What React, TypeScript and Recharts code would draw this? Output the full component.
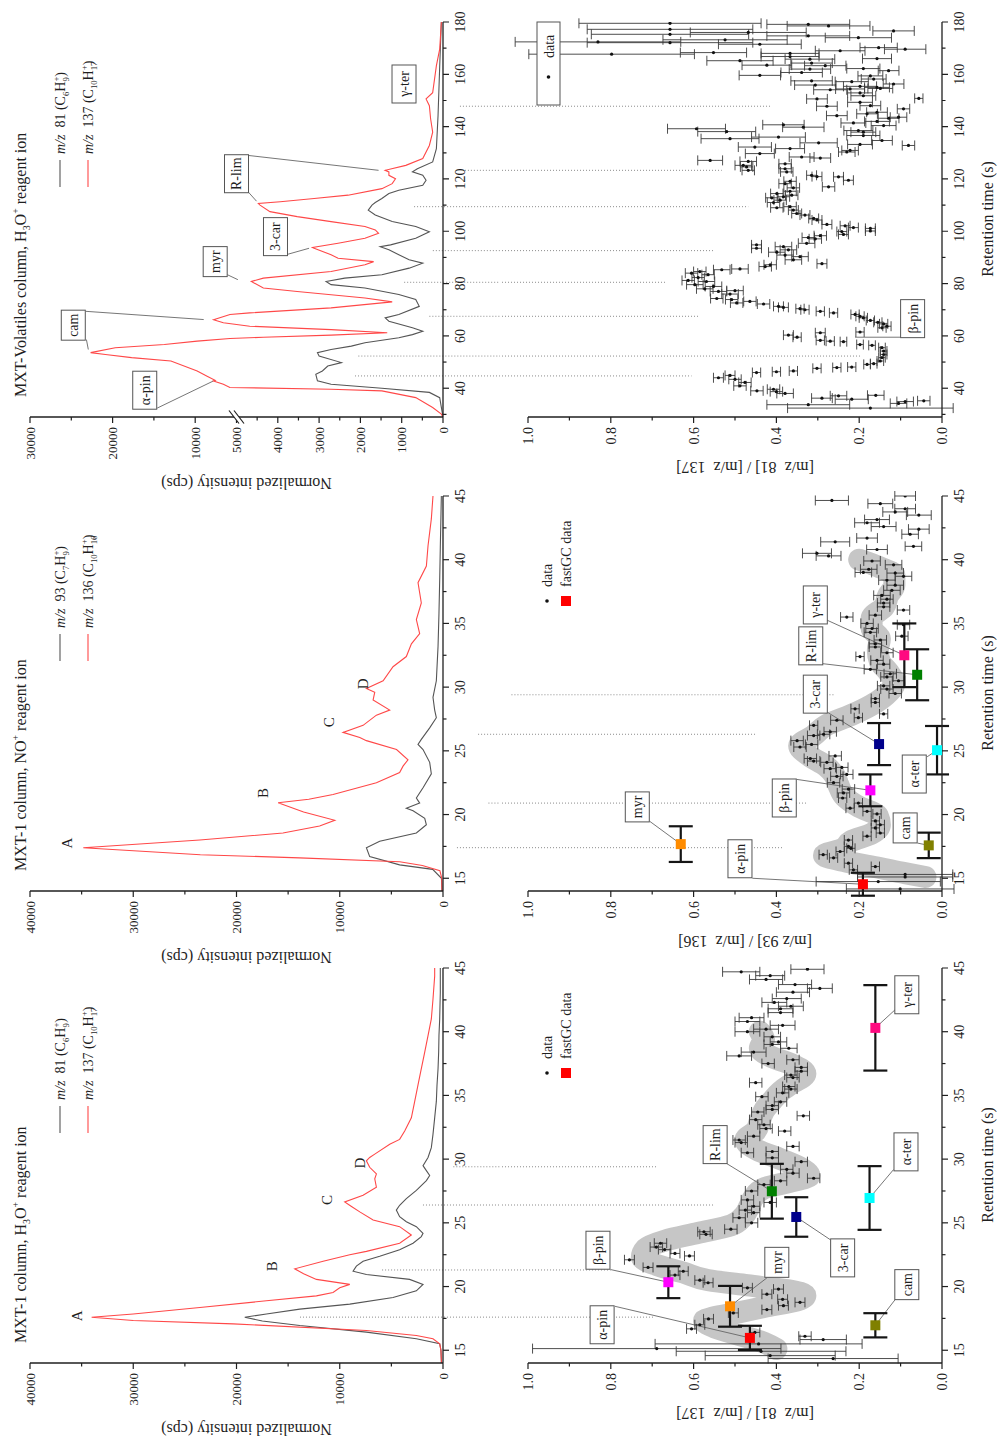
import React from "react";
import { ComposedChart, Line, Scatter, XAxis, YAxis, ErrorBar, ReferenceLine } from "recharts";

const FONT = '"Liberation Serif", "Times New Roman", serif';
const INK = "#1f1f1f";
const GRAY = "#555555";
const RED = "#ff4848";

// ---- chromatograms [retention time (s), normalized intensity (cps)] ----
const mxtH3o81 = [
  [14, 150], [15, 200], [15.52, 320], [15.9, 2580], [16.42, 7420], [16.94, 13870], [17.3, 17500], [17.59, 19200],
  [17.85, 17100], [18.23, 13870], [18.62, 9030], [19.14, 4840], [19.66, 2580], [20.17, 1935], [20.56, 3230],
  [20.95, 7420], [21.2, 8710], [21.6, 8390], [21.98, 7740], [22.37, 6130], [22.89, 4200], [23.4, 2900], [23.92, 2100],
  [24.18, 1935], [24.7, 2580], [25.09, 3550], [25.48, 4200], [26.0, 4520], [26.38, 4200], [26.9, 3550], [27.55, 2580],
  [28.32, 1610], [28.71, 1290], [29.1, 1610], [29.49, 1935], [30.13, 1450], [30.9, 1130], [31.94, 970], [33.24, 806],
  [34.53, 645], [35.82, 580], [37.1, 480], [38.4, 420], [39.7, 390], [41, 320], [43.1, 260], [45, 260],
];
const mxtH3o137 = [
  [14, 150], [15, 200], [15.5, 320], [15.9, 970], [16.16, 2580], [16.55, 7420], [17.07, 20320], [17.33, 30000],
  [17.59, 34030], [17.85, 30000], [18.36, 23550], [18.88, 17100], [19.27, 12260], [19.53, 10650], [19.9, 10000],
  [20.17, 9030], [20.56, 12260], [21.0, 13500], [21.39, 14360], [21.98, 11610], [22.5, 9030], [22.76, 7420],
  [23.4, 4200], [24.05, 3065], [24.7, 4200], [25.22, 6770], [25.86, 8060], [26.3, 8900], [26.64, 9520], [27.16, 7740],
  [27.8, 6450], [28.45, 6610], [28.84, 6450], [29.36, 7100], [29.87, 7420], [30.13, 7100], [30.39, 6610], [31.17, 5160],
  [31.55, 4200], [32.2, 3710], [33.24, 3065], [34.53, 2740], [35.82, 2420], [37.1, 2100], [38.4, 1770], [39.7, 1450],
  [41.0, 1130], [42.55, 970], [44.36, 806], [45, 806],
];
const mxtNo93 = [
  [14, 100], [15, 150], [15.7, 1000], [16.05, 4200], [16.7, 7100], [17.4, 7420], [17.9, 6130], [18.55, 2580],
  [19.2, 1610], [19.7, 1770], [20.3, 2900], [20.5, 3550], [20.9, 2260], [21.3, 2580], [22.1, 1935], [23.2, 1130],
  [24.1, 1290], [25.1, 1935], [25.5, 2420], [25.9, 2100], [26.8, 1290], [27.6, 645], [28.2, 806], [29.2, 970],
  [30.5, 645], [33.2, 480], [35.8, 390], [38.4, 320], [41, 260], [45, 160],
];
const mxtNo136 = [
  [14, 100], [15, 120], [15.6, 300], [16, 2000], [16.3, 4200], [16.6, 13900], [16.85, 23500], [17.4, 34840],
  [18.0, 23550], [18.55, 15500], [19.1, 11950], [19.55, 10480], [20.2, 13500], [20.92, 15970], [21.2, 13000],
  [21.58, 10650], [22.5, 6450], [23.3, 4200], [23.8, 3870], [24.3, 3390], [25.1, 4500], [25.8, 7420], [26.05, 8060],
  [26.45, 9680], [27.0, 7740], [27.8, 6450], [28.2, 5160], [29.0, 6770], [29.6, 6610], [29.9, 7420], [30.5, 5800],
  [31.6, 4840], [32.4, 3550], [33.4, 3060], [34.2, 2260], [35.3, 2580], [36.6, 2100], [38.2, 2420], [39.5, 1610],
  [41.1, 1450], [43.2, 1130], [45, 970],
];
const volH3o81 = [
  [29, 0], [36.4, 80], [38.4, 330], [40, 1480], [41.5, 2710], [42.8, 3040], [45.3, 3080], [46.6, 2920], [48.5, 2790],
  [49.8, 2460], [52.3, 3000], [53.6, 3040], [54.8, 2710], [56.1, 2220], [57.4, 1890], [59.3, 1070], [60.5, 740],
  [61.8, 490], [63.1, 740], [65.6, 1310], [66.9, 1400], [68.2, 1070], [71.3, 575], [73.9, 660], [75.8, 1070],
  [78.3, 1890], [79.6, 2710], [80.8, 2830], [82.1, 2380], [83.4, 1480], [85.9, 820], [87.8, 490], [89.1, 820],
  [91, 1070], [92.9, 1310], [94.1, 1520], [94.8, 1270], [97.3, 660], [99.8, 330], [101.8, 660], [103.7, 1230],
  [106.2, 1640], [108.1, 1810], [110, 1720], [111, 1640], [112.5, 1480], [114.4, 1310], [115.7, 1070], [117.6, 490],
  [119.5, 410], [121.4, 490], [122.7, 740], [123.9, 620], [126.5, 250], [131.6, 160], [144.2, 120], [163, 80], [180, 40],
];
const volH3o137 = [
  [29, 0], [30.1, 40], [32.6, 250], [36.4, 660], [39, 1480], [39.6, 2710], [40.3, 5800], [41.5, 6590], [42.8, 7780],
  [43, 7580], [44.5, 8500], [46.6, 9760], [50.4, 12940], [51.7, 17700], [52.9, 20870], [53.6, 22660], [55.5, 19680],
  [56.7, 13730], [58, 9760], [59, 5790], [59.5, 4350], [60.3, 2710], [61.2, 1350], [62.4, 2710], [63.7, 4680],
  [65, 6590], [66.2, 7780], [68.2, 5790], [68.8, 4680], [70.7, 2710], [73, 1230], [74.5, 1890], [77, 3530],
  [78.3, 4350], [80.8, 4640], [82.1, 4350], [84.6, 2710], [87.2, 1890], [88.4, 1680], [89.7, 2540], [91, 2710],
  [93.5, 3120], [93.8, 3160], [95.4, 2540], [97.3, 1890], [99.2, 1560], [100.5, 1640], [101.8, 1890], [103.7, 2710],
  [105.6, 3530], [107.5, 4190], [110, 4430], [110.6, 4470], [111.3, 3940], [112.5, 3120], [113.8, 2300], [116.3, 1480],
  [118.2, 1230], [120.1, 1150], [121.4, 1310], [122.7, 1310], [123.3, 1400], [125.2, 900], [127.8, 490], [132.8, 330],
  [137.9, 250], [143, 300], [148, 330], [150.6, 410], [153, 250], [163.3, 160], [169.6, 80], [180, 40],
];

// ---- ratios [retention time (s), ratio, error] ----
const ratioH3o = [
  [14.35, 0.263, 0.157], [14.58, 0.415, 0.157], [14.92, 0.437, 0.205], [15.13, 0.689, 0.3], [15.5, 0.443, 0.25],
  [15.84, 0.287, 0.056], [16.1, 0.331, 0.015], [16.4, 0.452, 0.012], [16.68, 0.605, 0.012], [17.0, 0.585, 0.012],
  [17.46, 0.564, 0.012], [17.93, 0.504, 0.012], [18.19, 0.423, 0.012], [18.5, 0.383, 0.012], [18.76, 0.343, 0.012],
  [19.0, 0.385, 0.012], [19.4, 0.423, 0.012], [19.8, 0.395, 0.012], [19.9, 0.47, 0.012], [20.3, 0.565, 0.012],
  [20.5, 0.585, 0.012], [20.9, 0.645, 0.012], [21.2, 0.625, 0.012], [21.5, 0.71, 0.012], [22.1, 0.755, 0.012],
  [22.4, 0.61, 0.012], [22.6, 0.645, 0.012], [22.9, 0.67, 0.015], [23.1, 0.69, 0.015], [23.4, 0.68, 0.015],
  [24.1, 0.57, 0.015], [24.3, 0.575, 0.015], [24.5, 0.51, 0.015], [25.0, 0.46, 0.015], [25.4, 0.49, 0.015],
  [25.8, 0.455, 0.015], [26.0, 0.475, 0.015], [26.3, 0.455, 0.015], [26.6, 0.415, 0.015], [26.8, 0.47, 0.015],
  [27.5, 0.46, 0.015], [28.0, 0.43, 0.015], [28.3, 0.39, 0.015], [28.5, 0.31, 0.015], [28.9, 0.36, 0.015],
  [29.2, 0.375, 0.015], [29.8, 0.34, 0.015], [30.1, 0.41, 0.015], [30.5, 0.47, 0.015], [30.6, 0.41, 0.015],
  [31.0, 0.36, 0.015], [31.3, 0.485, 0.015], [31.5, 0.49, 0.015], [31.8, 0.455, 0.015], [32.2, 0.38, 0.015],
  [32.4, 0.425, 0.015], [32.7, 0.43, 0.015], [33.1, 0.45, 0.015], [33.4, 0.335, 0.015], [33.7, 0.445, 0.015],
  [33.9, 0.41, 0.015], [34.2, 0.41, 0.015], [34.5, 0.39, 0.015], [34.9, 0.435, 0.015], [35.2, 0.385, 0.015],
  [35.5, 0.365, 0.015], [35.7, 0.37, 0.015], [36.0, 0.45, 0.015], [36.4, 0.36, 0.015], [36.6, 0.365, 0.015],
  [36.9, 0.34, 0.015], [37.2, 0.34, 0.015], [37.5, 0.42, 0.015], [37.8, 0.36, 0.015], [38.1, 0.49, 0.03],
  [38.4, 0.455, 0.03], [38.7, 0.37, 0.02], [39.0, 0.41, 0.02], [39.2, 0.395, 0.02], [39.6, 0.41, 0.02],
  [40.0, 0.47, 0.03], [40.2, 0.425, 0.03], [40.5, 0.385, 0.03], [40.8, 0.47, 0.03], [41.1, 0.46, 0.03],
  [41.5, 0.39, 0.03], [41.8, 0.39, 0.03], [42.0, 0.365, 0.03], [42.3, 0.405, 0.03], [42.6, 0.375, 0.035],
  [43.1, 0.36, 0.04], [43.4, 0.295, 0.03], [43.7, 0.355, 0.04], [44.1, 0.425, 0.04], [44.4, 0.415, 0.035],
  [44.7, 0.485, 0.045], [44.9, 0.325, 0.04],
];
const ratioNo = [
  [14.16, 0.101, 0.13], [14.74, 0.154, 0.15], [15.1, 0.089, 0.115], [15.3, 0.089, 0.115], [15.66, 0.214, 0.01],
  [15.92, 0.161, 0.01], [16.18, 0.226, 0.01], [16.6, 0.262, 0.01], [16.85, 0.287, 0.01], [17.1, 0.246, 0.01],
  [17.35, 0.22, 0.01], [17.5, 0.226, 0.01], [18.0, 0.226, 0.01], [18.3, 0.181, 0.01], [18.55, 0.149, 0.01],
  [18.95, 0.161, 0.01], [19.2, 0.149, 0.01], [19.5, 0.161, 0.01], [20.05, 0.157, 0.01], [20.25, 0.181, 0.01],
  [20.5, 0.222, 0.01], [20.9, 0.202, 0.01], [21.3, 0.24, 0.01], [21.7, 0.238, 0.015], [22.0, 0.226, 0.015],
  [22.5, 0.262, 0.015], [23.0, 0.254, 0.015], [23.15, 0.23, 0.015], [23.6, 0.27, 0.015], [23.7, 0.242, 0.015],
  [24.1, 0.278, 0.015], [24.2, 0.31, 0.015], [24.4, 0.318, 0.015], [24.6, 0.258, 0.015], [25.3, 0.343, 0.015],
  [25.5, 0.315, 0.015], [25.8, 0.35, 0.015], [26.2, 0.31, 0.015], [26.3, 0.286, 0.015], [26.5, 0.27, 0.015],
  [27.0, 0.31, 0.01], [27.4, 0.254, 0.015], [27.6, 0.202, 0.01], [27.9, 0.141, 0.01], [28.3, 0.21, 0.01],
  [28.8, 0.161, 0.01], [29.1, 0.161, 0.01], [29.5, 0.113, 0.015], [29.85, 0.133, 0.015], [30.1, 0.141, 0.015],
  [30.5, 0.105, 0.015], [30.8, 0.133, 0.015], [31.05, 0.125, 0.015], [31.4, 0.173, 0.015], [31.8, 0.141, 0.015],
  [32.1, 0.157, 0.015], [32.4, 0.198, 0.01], [32.7, 0.133, 0.015], [33.15, 0.161, 0.015], [33.4, 0.161, 0.015],
  [33.7, 0.149, 0.015], [34.0, 0.097, 0.015], [34.3, 0.173, 0.015], [34.6, 0.169, 0.015], [34.9, 0.093, 0.015],
  [35.0, 0.181, 0.015], [35.5, 0.23, 0.015], [35.65, 0.161, 0.015], [36.05, 0.093, 0.015], [36.3, 0.141, 0.015],
  [36.6, 0.141, 0.015], [36.9, 0.133, 0.015], [37.2, 0.145, 0.02], [37.6, 0.121, 0.02], [38.0, 0.113, 0.02],
  [38.4, 0.133, 0.02], [38.7, 0.093, 0.02], [38.95, 0.113, 0.02], [39.0, 0.19, 0.02], [39.25, 0.177, 0.02],
  [39.6, 0.117, 0.02], [39.9, 0.169, 0.02], [40.3, 0.274, 0.03], [40.5, 0.302, 0.035], [40.8, 0.157, 0.025],
  [41.05, 0.069, 0.02], [41.4, 0.258, 0.035], [41.7, 0.181, 0.025], [42.0, 0.077, 0.02], [42.4, 0.056, 0.025],
  [42.6, 0.141, 0.03], [42.9, 0.181, 0.03], [43.15, 0.157, 0.03], [43.5, 0.056, 0.03], [43.75, 0.113, 0.03],
  [44.0, 0.089, 0.025], [44.4, 0.149, 0.03], [44.65, 0.266, 0.04], [45.0, 0.089, 0.025],
];
const ratioVol = [
  [32.4, 0.173, 0.2], [33.7, 0.323, 0.1], [34.2, 0.105, 0.02], [34.9, 0.089, 0.02], [35.2, 0.044, 0.015],
  [35.8, 0.218, 0.04], [36.2, 0.29, 0.025], [37.1, 0.25, 0.02], [37.3, 0.16, 0.02], [38.0, 0.379, 0.02],
  [38.7, 0.4, 0.015], [39.0, 0.447, 0.015], [39.6, 0.407, 0.015], [40.9, 0.488, 0.015], [42.2, 0.476, 0.015],
  [43.4, 0.5, 0.015], [44.0, 0.54, 0.012], [44.9, 0.512, 0.012], [46.0, 0.448, 0.01], [46.3, 0.4, 0.01],
  [46.6, 0.359, 0.01], [47.6, 0.302, 0.01], [47.9, 0.254, 0.01], [48.1, 0.218, 0.01], [49.1, 0.181, 0.008],
  [49.4, 0.165, 0.008], [50.4, 0.149, 0.008], [51.7, 0.145, 0.008], [52.9, 0.141, 0.008], [54.2, 0.141, 0.008],
  [55.5, 0.145, 0.008], [56.4, 0.169, 0.008], [56.7, 0.198, 0.008], [57.8, 0.238, 0.008], [58.0, 0.27, 0.01],
  [58.3, 0.294, 0.01], [59.5, 0.35, 0.01], [60.3, 0.371, 0.012], [61.2, 0.294, 0.012], [61.5, 0.198, 0.01],
  [63.1, 0.145, 0.01], [63.7, 0.133, 0.01], [64.6, 0.141, 0.01], [65.2, 0.155, 0.01], [65.9, 0.173, 0.01],
  [66.9, 0.19, 0.01], [67.5, 0.198, 0.01], [68.2, 0.21, 0.01], [68.8, 0.262, 0.01], [69.4, 0.294, 0.01],
  [70.0, 0.331, 0.01], [70.4, 0.343, 0.01], [70.9, 0.383, 0.012], [71.3, 0.395, 0.012], [72.2, 0.431, 0.015],
  [72.6, 0.496, 0.015], [73.2, 0.464, 0.015], [73.9, 0.508, 0.015], [74.3, 0.544, 0.015], [76.0, 0.512, 0.02],
  [77.0, 0.54, 0.02], [77.3, 0.5, 0.02], [78.0, 0.573, 0.02], [78.9, 0.552, 0.02], [79.6, 0.597, 0.02],
  [80.8, 0.569, 0.02], [81.2, 0.613, 0.015], [82.3, 0.589, 0.015], [83.4, 0.565, 0.015], [84.0, 0.605, 0.015],
  [84.6, 0.585, 0.015], [85.3, 0.532, 0.02], [85.6, 0.488, 0.02], [86.5, 0.427, 0.015], [87.2, 0.415, 0.015],
  [87.6, 0.29, 0.012], [89.1, 0.359, 0.02], [90.3, 0.343, 0.02], [90.9, 0.379, 0.02], [92.0, 0.399, 0.02],
  [92.9, 0.371, 0.02], [93.5, 0.448, 0.012], [94.1, 0.383, 0.02], [94.8, 0.448, 0.012], [95.4, 0.327, 0.02],
  [97.1, 0.306, 0.015], [97.6, 0.323, 0.015], [98.3, 0.294, 0.015], [98.8, 0.238, 0.012], [99.9, 0.242, 0.012],
  [100.1, 0.173, 0.012], [101.1, 0.173, 0.012], [101.4, 0.214, 0.012], [102.1, 0.234, 0.012], [102.6, 0.278, 0.012],
  [104.3, 0.302, 0.012], [104.9, 0.31, 0.012], [106.2, 0.331, 0.012], [106.8, 0.351, 0.012], [108.1, 0.359, 0.012],
  [109.0, 0.399, 0.015], [109.4, 0.367, 0.015], [111.0, 0.407, 0.015], [111.9, 0.391, 0.015], [112.8, 0.411, 0.015],
  [113.2, 0.383, 0.015], [113.8, 0.363, 0.015], [114.4, 0.399, 0.015], [115.3, 0.367, 0.015], [116.6, 0.359, 0.015],
  [117.0, 0.274, 0.015], [118.2, 0.379, 0.015], [119.1, 0.367, 0.015], [119.5, 0.226, 0.012], [120.8, 0.25, 0.012],
  [120.9, 0.302, 0.012], [121.4, 0.315, 0.012], [122.7, 0.375, 0.015], [123.3, 0.468, 0.015], [123.9, 0.379, 0.015],
  [124.6, 0.472, 0.015], [125.2, 0.48, 0.02], [125.8, 0.379, 0.015], [126.7, 0.468, 0.02], [127.1, 0.56, 0.03],
  [128.0, 0.294, 0.025], [128.4, 0.339, 0.03], [129.7, 0.44, 0.035], [130.3, 0.23, 0.02], [130.9, 0.222, 0.02],
  [131.6, 0.367, 0.035], [132.2, 0.452, 0.04], [132.8, 0.081, 0.015], [133.2, 0.198, 0.03], [133.8, 0.298, 0.045],
  [134.7, 0.145, 0.025], [135.4, 0.512, 0.07], [136.0, 0.395, 0.065], [136.6, 0.19, 0.04], [137.9, 0.19, 0.03],
  [138.1, 0.52, 0.07], [138.5, 0.202, 0.035], [139.2, 0.593, 0.07], [139.8, 0.335, 0.05], [140.4, 0.141, 0.03],
  [140.7, 0.383, 0.05], [141.4, 0.214, 0.03], [142.0, 0.157, 0.03], [143.2, 0.129, 0.025], [143.6, 0.105, 0.02],
  [144.2, 0.254, 0.025], [144.9, 0.181, 0.025], [145.5, 0.157, 0.025], [146.8, 0.093, 0.015], [147.8, 0.278, 0.025],
  [148.0, 0.173, 0.025], [149.3, 0.198, 0.03], [150.6, 0.302, 0.025], [150.8, 0.056, 0.01], [151.8, 0.19, 0.03],
  [152.9, 0.198, 0.03], [154.1, 0.27, 0.04], [154.4, 0.222, 0.035], [154.6, 0.149, 0.03], [155.0, 0.157, 0.03],
  [155.4, 0.198, 0.04], [155.9, 0.306, 0.05], [156.3, 0.117, 0.025], [157.2, 0.218, 0.04], [157.5, 0.315, 0.05],
  [158.2, 0.165, 0.03], [159.4, 0.173, 0.03], [159.6, 0.44, 0.05], [160.7, 0.339, 0.05], [161.4, 0.129, 0.025],
  [162.0, 0.319, 0.05], [162.2, 0.19, 0.04], [163.3, 0.282, 0.05], [163.5, 0.423, 0.06], [164.3, 0.315, 0.05],
  [165.2, 0.488, 0.08], [165.8, 0.319, 0.06], [166.0, 0.157, 0.035], [166.8, 0.367, 0.07], [167.7, 0.798, 0.2],
  [168.0, 0.367, 0.07], [168.3, 0.552, 0.08], [169.0, 0.246, 0.06], [169.6, 0.089, 0.05], [170.2, 0.153, 0.045],
  [171.5, 0.44, 0.1], [172.1, 0.657, 0.2], [172.4, 0.831, 0.2], [173.2, 0.524, 0.15], [174.0, 0.202, 0.08],
  [174.7, 0.323, 0.1], [175.3, 0.657, 0.19], [176.0, 0.468, 0.14], [176.6, 0.117, 0.05], [177.2, 0.657, 0.2],
  [178.5, 0.274, 0.1], [179.1, 0.323, 0.1], [179.5, 0.657, 0.22],
];

// grey smoothed trend behind the ratio points
const trendH3o = [
  [15.1, 0.4], [15.6, 0.43], [16.2, 0.49], [16.8, 0.55], [17.3, 0.575], [17.9, 0.5], [18.4, 0.43], [18.9, 0.35],
  [19.3, 0.33], [19.7, 0.37], [20.1, 0.47], [20.5, 0.565], [21.1, 0.625], [21.7, 0.69], [22.3, 0.725], [23.0, 0.715],
  [23.6, 0.67], [24.2, 0.59], [24.8, 0.51], [25.5, 0.48], [26.3, 0.465], [27.0, 0.455], [27.7, 0.43], [28.2, 0.37],
  [28.7, 0.32], [29.3, 0.34], [30.0, 0.39], [30.7, 0.445], [31.5, 0.475], [32.2, 0.45], [33.0, 0.44], [33.8, 0.43],
  [34.6, 0.41], [35.3, 0.39], [36.0, 0.36], [36.7, 0.33], [37.4, 0.36], [38.0, 0.41], [38.7, 0.44], [39.4, 0.43],
  [40.0, 0.44],
];
const trendNo = [
  [15.1, 0.04], [15.4, 0.09], [15.8, 0.15], [16.3, 0.23], [16.8, 0.285], [17.3, 0.24], [17.9, 0.22], [18.5, 0.17],
  [19.2, 0.15], [19.9, 0.155], [20.6, 0.2], [21.4, 0.235], [22.3, 0.25], [23.1, 0.26], [23.8, 0.28], [24.6, 0.32],
  [25.4, 0.345], [26.2, 0.31], [27.0, 0.28], [27.8, 0.22], [28.6, 0.17], [29.4, 0.135], [30.3, 0.115], [31.2, 0.13],
  [32.0, 0.15], [32.9, 0.155], [33.8, 0.15], [34.6, 0.17], [35.4, 0.17], [36.3, 0.14], [37.2, 0.13], [38.0, 0.115],
  [38.8, 0.115], [39.4, 0.15], [40.0, 0.2],
];

// fastGC reference compounds [name, retention time, ratio, time error]
const fastGcH3o = [
  ["α-pin", 15.97, 0.464, 0.95], ["myr", 18.45, 0.512, 1.6], ["β-pin", 20.34, 0.661, 1.25], ["R-lim", 27.48, 0.411, 2.15],
  ["3-car", 25.46, 0.352, 1.55], ["cam", 16.96, 0.161, 0.95], ["α-ter", 26.95, 0.175, 2.5], ["γ-ter", 40.3, 0.161, 3.35],
];
const fastGcNo = [
  ["α-pin", 14.53, 0.191, 0.9], ["myr", 17.68, 0.631, 1.4], ["β-pin", 21.9, 0.173, 1.25], ["3-car", 25.53, 0.152, 1.65],
  ["R-lim", 30.97, 0.06, 2.0], ["γ-ter", 32.5, 0.091, 2.5], ["α-ter", 25.05, 0.012, 1.9], ["cam", 17.58, 0.032, 1.0],
];
const GC_COLORS: Record<string, string> = {
  "α-pin": "#ff0000", myr: "#ff8c00", "β-pin": "#ff00ff", "R-lim": "#008000",
  "3-car": "#00008b", cam: "#808000", "α-ter": "#00ffff", "γ-ter": "#ff0a80",
};

// annotations [label, time, value] and leader lines [t1, v1, t2, v2]
const lettersH3o = [["A", 17.7, 35500], ["B", 21.6, 16600], ["C", 26.8, 11300], ["D", 29.7, 8060]];
const lettersNo = [["A", 17.76, 36450], ["B", 21.7, 17500], ["C", 27.24, 11100], ["D", 30.26, 7800]];
const boxesH3oRatio = [
  ["α-pin", 17.0, 0.821], ["β-pin", 22.85, 0.831], ["myr", 21.9, 0.399], ["R-lim", 31.14, 0.548],
  ["3-car", 22.25, 0.24], ["cam", 20.15, 0.085], ["α-ter", 30.57, 0.087], ["γ-ter", 42.9, 0.085],
];
const linksH3oRatio = [
  [18.45, 0.79, 15.97, 0.464], [21.33, 0.8, 20.34, 0.661], [20.68, 0.423, 18.45, 0.512], [29.65, 0.52, 27.48, 0.411],
  [23.68, 0.27, 25.46, 0.352], [18.98, 0.113, 16.96, 0.161], [29.18, 0.117, 26.95, 0.175], [41.73, 0.113, 40.3, 0.161],
];
const boxesNoRatio = [
  ["α-pin", 16.53, 0.488], ["myr", 20.6, 0.736], ["β-pin", 21.3, 0.381], ["3-car", 29.45, 0.306],
  ["R-lim", 33.24, 0.317], ["γ-ter", 36.45, 0.306], ["α-ter", 23.18, 0.067], ["cam", 18.95, 0.089],
];
const linksNoRatio = [
  [15.0, 0.458, 14.53, 0.191], [19.47, 0.706, 17.68, 0.631], [22.76, 0.351, 21.9, 0.173], [28.03, 0.277, 25.53, 0.152],
  [31.84, 0.288, 30.97, 0.06], [35.26, 0.278, 32.5, 0.091], [24.53, 0.036, 25.05, 0.012], [17.76, 0.059, 17.58, 0.032],
];
const boxesVol = [
  ["α-pin", 39.24, 16110], ["cam", 64.1, 24760], ["myr", 88.4, 7580], ["3-car", 97.95, 4056], ["R-lim", 122, 5000], ["γ-ter", 156.3, 944],
];
const linksVol = [
  [32.4, 14600, 42.8, 7780], [69.4, 23250, 66.25, 8970], [58.6, 23170, 54.8, 22940], [83.4, 6110, 81.5, 4967],
  [91.2, 3760, 93.5, 3243], [129.0, 4720, 123.3, 1560], [115.1, 4720, 111.5, 4515],
];
const boxesVolRatio = [["β-pin", 66.6, 0.071]];
const linksVolRatio = [[59.5, 0.21, 59.5, 0.1]];

// dotted peak markers [time, start in chromatogram (null = below it), end ratio, start ratio]
const dottedH3o = [[17.6, 13850, 0.698], [21.3, 5900, 0.8], [26.4, 1940, 0.553], [29.4, -1000, 0.688]];
const dottedNo = [[17.4, -1350, 0.383], [20.9, -4400, 0.327], [26.3, -3400, 0.448], [29.4, null, 0.262, 1.04]];
const dottedVol = [
  [44.7, 2130, 0.605], [52.3, 2050, 0.198], [67.5, 330, 0.585], [80.5, 940, 0.665],
  [92.6, 246, 0.552], [109.4, 700, 0.468], [123.3, -530, 0.532], [147.8, -410, 0.411],
];

// ticks
const ticks45 = [15, 17.5, 20, 22.5, 25, 27.5, 30, 32.5, 35, 37.5, 40, 42.5, 45];
const majors45 = [15, 20, 25, 30, 35, 40, 45];
const ticks180 = [30, 40, 50, 60, 70, 80, 90, 100, 110, 120, 130, 140, 150, 160, 170, 180];
const majors180 = [40, 60, 80, 100, 120, 140, 160, 180];
const chromTicks = [0, 5000, 10000, 15000, 20000, 25000, 30000, 35000, 40000];
const chromMajors = [0, 10000, 20000, 30000, 40000];
const volTicksRaw = [0, 500, 1000, 1500, 2000, 2500, 3000, 3500, 4000, 4500, 5000, 10000, 15000, 20000, 25000, 30000];
const volMajorsRaw = [0, 1000, 2000, 3000, 4000, 5000, 10000, 20000, 30000];
const ratioTicks = [0, 0.1, 0.2, 0.3, 0.4, 0.5, 0.6, 0.7, 0.8, 0.9, 1.0];
const ratioMajors = [0, 0.2, 0.4, 0.6, 0.8, 1.0];

// broken intensity axis of the volatiles column: above 5000 the scale is compressed
const BREAK = 5000;
const squash = (v: number) => (v <= BREAK ? v : BREAK + (v - BREAK) * 0.2);
const unsquash = (v: number) => (v <= BREAK ? v : BREAK + (v - BREAK) / 0.2);

const pts = (a: any[], f = (v: number) => v) => a.map(([x, y, e]) => ({ x, y: f(y), e }));
const labelled = (a: any[], f = (v: number) => v) => a.map(([label, x, y, e]) => ({ label, x, y: f(y), e }));
const segs = (a: any[], f = (v: number) => v) => a.map(([x1, y1, x2, y2]) => [x1, f(y1), x2, f(y2)]);

// layout (unrotated figure is 1444 x 997)
const CW = 495;
const PL = 81;
const COLS = [81, 553, 1027];
const CHROM_H = 528;
const RATIO_TOP = 500;
const RATIO_H = 497;
const AXIS = { stroke: INK, strokeWidth: 1.3 };

const near = (v: number, list: number[]) => list.some((m) => Math.abs(m - v) < 1e-6);

const makeXTick = (majors: number[]) => (p: any) => {
  const { x, y, payload } = p;
  const major = near(payload.value, majors);
  return (
    <g>
      <line x1={x} x2={x} y1={y} y2={y + (major ? 6 : 3.5)} stroke={INK} strokeWidth={1.2} />
      {major && (
        <text x={x} y={y + 22} textAnchor="middle" fontSize={14} fontFamily={FONT} fill={INK}>
          {payload.value}
        </text>
      )}
    </g>
  );
};

const makeYTick = (majors: number[], fmt: (v: number) => string, fs: number, breakAt?: number) => (p: any) => {
  const { x, y, payload } = p;
  const v = payload.value;
  const major = near(v, majors);
  return (
    <g>
      <line x1={x - (major ? 6 : 3.5)} x2={x} y1={y} y2={y} stroke={INK} strokeWidth={1.2} />
      {major && (
        <text x={x - 10} y={y} dy="0.35em" textAnchor="end" fontSize={fs} fontFamily={FONT} fill={INK}>
          {fmt(v)}
        </text>
      )}
      {breakAt !== undefined && Math.abs(v - breakAt) < 1e-6 && (
        <g>
          <polygon points={`${x + 6.5},${y - 7.5} ${x - 6.5},${y + 2.5} ${x - 6.5},${y + 7.5} ${x + 6.5},${y - 2.5}`} fill="#fff" />
          <line x1={x + 6.5} y1={y - 7.5} x2={x - 6.5} y2={y + 2.5} stroke={INK} strokeWidth={1.2} />
          <line x1={x + 6.5} y1={y - 2.5} x2={x - 6.5} y2={y + 7.5} stroke={INK} strokeWidth={1.2} />
        </g>
      )}
    </g>
  );
};

const letterShape = (p: any) => (
  <text x={p.cx} y={p.cy} dy="0.35em" textAnchor="middle" fontSize={15} fontFamily={FONT} fill={INK}>
    {p.payload.label}
  </text>
);

const boxShape = (p: any) => {
  const { cx, cy, payload } = p;
  const w = Math.max(30, payload.label.length * 6 + 8);
  return (
    <g>
      <rect x={cx - w / 2} y={cy - 12} width={w} height={24} fill="#fff" stroke="#555" strokeWidth={1} />
      <text x={cx} y={cy} dy="0.35em" textAnchor="middle" fontSize={14} fontFamily={FONT} fill={INK}>
        {payload.label}
      </text>
    </g>
  );
};

const dotShape = (p: any) => <circle cx={p.cx} cy={p.cy} r={1.6} fill="#111" />;
const squareShape = (p: any) => (
  <rect x={p.cx - 5} y={p.cy - 5} width={10} height={10} fill={GC_COLORS[p.payload.label]} />
);

// text with sub/superscripts: n normal, i italic, b sub, p sup, ps sup stacked over previous sub
function Rich({ toks, size, x, y, anchor = "start", transform }: any) {
  let cur = 0;
  let prev = "";
  const kids = toks.map(([s, k = "n"]: any, i: number) => {
    let target = 0;
    let fs = size;
    let dx = 0;
    if (k === "b") { target = size * 0.3; fs = size * 0.62; }
    if (k === "p" || k === "ps") { target = -size * 0.42; fs = size * 0.62; }
    if (k === "ps") dx = -prev.length * size * 0.62 * 0.5;
    const dy = target - cur;
    cur = target;
    prev = s;
    return (
      <tspan key={i} dx={dx || undefined} dy={dy || undefined} fontSize={fs} fontStyle={k === "i" ? "italic" : undefined}>
        {s}
      </tspan>
    );
  });
  return (
    <text x={x} y={y} textAnchor={anchor} transform={transform} fontFamily={FONT} fontSize={size} fill={INK} style={{ whiteSpace: "pre" }}>
      {kids}
    </text>
  );
}

function Chrom(props: any) {
  const { col, series, yDomain, yTicks, yMajors, yFmt, yBreak, xDomain, xTicks, xMajors,
    letters = [], boxes = [], links = [], dotted, ext, title, legend } = props;
  const yc = 30 + 206.5 + 10;
  return (
    <div style={{ position: "absolute", left: col - PL, top: 0, width: CW, height: CHROM_H }}>
      <ComposedChart width={CW} height={CHROM_H} margin={{ top: 30, right: 19, bottom: 55, left: 21 }}>
        <XAxis type="number" dataKey="x" domain={xDomain} ticks={xTicks} interval={0} allowDataOverflow height={30}
          tickSize={0} tickMargin={0} tickLine={false} axisLine={AXIS} tick={makeXTick(xMajors)} />
        <YAxis type="number" dataKey="y" domain={yDomain} ticks={yTicks} interval={0} allowDataOverflow width={60}
          tickSize={0} tickMargin={0} tickLine={false} axisLine={AXIS} tick={makeYTick(yMajors, yFmt, 13, yBreak)} />
        {dotted.map(([t, from]: any, i: number) =>
          from === null ? null : (
            <ReferenceLine key={`d${i}`} segment={[{ x: t, y: from }, { x: t, y: ext }]} stroke="#8a8a8a"
              strokeWidth={1} strokeDasharray="1 2" ifOverflow="visible" />
          ))}
        {links.map(([x1, y1, x2, y2]: number[], i: number) => (
          <ReferenceLine key={`l${i}`} segment={[{ x: x1, y: y1 }, { x: x2, y: y2 }]} stroke="#666" strokeWidth={0.9} ifOverflow="visible" />
        ))}
        {series.map((s: any, i: number) => (
          <Line key={`s${i}`} data={s.pts} dataKey="y" type="linear" stroke={s.color} strokeWidth={1.1}
            dot={false} activeDot={false} isAnimationActive={false} />
        ))}
        <Scatter data={letters} dataKey="y" shape={letterShape} isAnimationActive={false} />
        <Scatter data={boxes} dataKey="y" shape={boxShape} isAnimationActive={false} />
      </ComposedChart>
      <svg width={CW} height={CHROM_H} style={{ position: "absolute", left: 0, top: 0, overflow: "visible", pointerEvents: "none" }}>
        <Rich toks={title} size={16} x={PL + 20} y={25.5} />
        {legend.map((l: any, i: number) => (
          <g key={i}>
            <line x1={PL + 230} x2={PL + 257} y1={60 + 28 * i} y2={60 + 28 * i} stroke={l.color} strokeWidth={1.1} />
            <Rich toks={l.toks} size={14} x={PL + 263} y={65 + 28 * i} />
          </g>
        ))}
        <text transform={`rotate(-90 ${PL - 67} ${yc})`} x={PL - 67} y={yc} dy="0.35em" textAnchor="middle"
          fontSize={16} fontFamily={FONT} fill={INK}>
          Normalized intensity (cps)
        </text>
      </svg>
    </div>
  );
}

function Ratio(props: any) {
  const { col, points, trend, gc, boxes = [], links = [], dotted, xDomain, xTicks, xMajors, yTitle, boxedLegend } = props;
  const yc = 28 + 207 + 10;
  return (
    <div style={{ position: "absolute", left: col - PL, top: RATIO_TOP, width: CW, height: RATIO_H }}>
      <ComposedChart width={CW} height={RATIO_H} margin={{ top: 28, right: 19, bottom: 25, left: 21 }}>
        <XAxis type="number" dataKey="x" domain={xDomain} ticks={xTicks} interval={0} allowDataOverflow height={30}
          tickSize={0} tickMargin={0} tickLine={false} axisLine={AXIS} tick={makeXTick(xMajors)} />
        <YAxis type="number" dataKey="y" domain={[0, 1]} ticks={ratioTicks} interval={0} allowDataOverflow width={60}
          tickSize={0} tickMargin={0} tickLine={false} axisLine={AXIS} tick={makeYTick(ratioMajors, (v) => v.toFixed(1), 14)} />
        {dotted.map(([t, , to, top]: any, i: number) => (
          <ReferenceLine key={`d${i}`} segment={[{ x: t, y: top ?? 1.07 }, { x: t, y: to }]} stroke="#8a8a8a"
            strokeWidth={1} strokeDasharray="1 2" ifOverflow="visible" />
        ))}
        {trend && (
          <Line data={trend} dataKey="y" type="monotone" stroke="#c6c6c6" strokeWidth={22} strokeLinecap="round"
            strokeLinejoin="round" dot={false} activeDot={false} isAnimationActive={false} />
        )}
        {links.map(([x1, y1, x2, y2]: number[], i: number) => (
          <ReferenceLine key={`l${i}`} segment={[{ x: x1, y: y1 }, { x: x2, y: y2 }]} stroke="#666" strokeWidth={0.9} ifOverflow="visible" />
        ))}
        <Scatter data={points} dataKey="y" shape={dotShape} isAnimationActive={false}>
          <ErrorBar dataKey="e" direction="y" width={5} stroke="#3a3a3a" strokeWidth={0.9} />
        </Scatter>
        {gc && (
          <Scatter data={gc} dataKey="y" shape={squareShape} isAnimationActive={false}>
            <ErrorBar dataKey="e" direction="x" width={12} stroke="#151515" strokeWidth={2.2} />
          </Scatter>
        )}
        <Scatter data={boxes} dataKey="y" shape={boxShape} isAnimationActive={false} />
      </ComposedChart>
      <svg width={CW} height={RATIO_H} style={{ position: "absolute", left: 0, top: 0, overflow: "visible", pointerEvents: "none" }}>
        <Rich toks={[[yTitle]]} size={16} x={PL - 50} y={yc + 5.5} anchor="middle" transform={`rotate(-90 ${PL - 50} ${yc})`} />
        <text x={PL + 198} y={492.5} textAnchor="middle" fontSize={16} fontFamily={FONT} fill={INK}>
          Retention time (s)
        </text>
        {boxedLegend ? (
          <g>
            <rect x={PL + 312} y={37} width={83} height={23} fill="#fff" stroke="#555" strokeWidth={1} />
            <circle cx={PL + 340} cy={48.5} r={1.8} fill="#111" />
            <text x={PL + 359} y={53.5} fontSize={14} fontFamily={FONT} fill={INK}>data</text>
          </g>
        ) : (
          <g>
            <circle cx={PL + 290} cy={47} r={1.8} fill="#111" />
            <text x={PL + 304} y={52} fontSize={14} fontFamily={FONT} fill={INK}>data</text>
            <rect x={PL + 285} y={61} width={10} height={10} fill="#ff0000" />
            <text x={PL + 304} y={71} fontSize={14} fontFamily={FONT} fill={INK}>fastGC data</text>
          </g>
        )}
      </svg>
    </div>
  );
}

const legH3o = [
  { color: GRAY, toks: [["m/z", "i"], ["  81 (C"], ["6", "b"], ["H"], ["9", "b"], ["+", "ps"], [")"]] },
  { color: RED, toks: [["m/z", "i"], ["  137 (C"], ["10", "b"], ["H"], ["17", "b"], ["+", "ps"], [")"]] },
];
const legNo = [
  { color: GRAY, toks: [["m/z", "i"], ["  93 (C"], ["7", "b"], ["H"], ["9", "b"], ["+", "ps"], [")"]] },
  { color: RED, toks: [["m/z", "i"], ["  136 (C"], ["10", "b"], ["H"], ["16", "b"], ["+", "ps"], [")"]] },
];

export default function App() {
  const volFmt = (v: number) => String(Math.round(unsquash(v)));
  return (
    <div style={{ position: "absolute", left: 0, top: 0, width: 997, height: 1444, overflow: "hidden", background: "#fff" }}>
      <div style={{ position: "absolute", left: 0, top: 0, width: 1444, height: 997, transform: "translateY(1444px) rotate(-90deg)", transformOrigin: "0 0" }}>
        <Chrom col={COLS[0]} series={[{ pts: pts(mxtH3o81), color: GRAY }, { pts: pts(mxtH3o137), color: RED }]}
          yDomain={[0, 40000]} yTicks={chromTicks} yMajors={chromMajors} yFmt={String}
          xDomain={[14, 45]} xTicks={ticks45} xMajors={majors45} letters={labelled(lettersH3o)}
          dotted={dottedH3o} ext={-5500} legend={legH3o}
          title={[["MXT-1 column, H"], ["3", "b"], ["O"], ["+", "p"], [" reagent ion"]]} />
        <Chrom col={COLS[1]} series={[{ pts: pts(mxtNo93), color: GRAY }, { pts: pts(mxtNo136), color: RED }]}
          yDomain={[0, 40000]} yTicks={chromTicks} yMajors={chromMajors} yFmt={String}
          xDomain={[14, 45]} xTicks={ticks45} xMajors={majors45} letters={labelled(lettersNo)}
          dotted={dottedNo} ext={-5500} legend={legNo}
          title={[["MXT-1 column, NO"], ["+", "p"], [" reagent ion"]]} />
        <Chrom col={COLS[2]} series={[{ pts: pts(volH3o81, squash), color: GRAY }, { pts: pts(volH3o137, squash), color: RED }]}
          yDomain={[0, 10000]} yTicks={volTicksRaw.map(squash)} yMajors={volMajorsRaw.map(squash)} yFmt={volFmt} yBreak={squash(BREAK)}
          xDomain={[29, 180]} xTicks={ticks180} xMajors={majors180}
          boxes={labelled(boxesVol, squash)} links={segs(linksVol, squash)}
          dotted={dottedVol} ext={-1380} legend={legH3o}
          title={[["MXT-Volatiles column, H"], ["3", "b"], ["O"], ["+", "p"], [" reagent ion"]]} />

        <Ratio col={COLS[0]} points={pts(ratioH3o)} trend={pts(trendH3o)} gc={labelled(fastGcH3o)}
          boxes={labelled(boxesH3oRatio)} links={linksH3oRatio} dotted={dottedH3o}
          xDomain={[14, 45]} xTicks={ticks45} xMajors={majors45} yTitle="[m/z  81] / [m/z  137]" />
        <Ratio col={COLS[1]} points={pts(ratioNo)} trend={pts(trendNo)} gc={labelled(fastGcNo)}
          boxes={labelled(boxesNoRatio)} links={linksNoRatio} dotted={dottedNo}
          xDomain={[14, 45]} xTicks={ticks45} xMajors={majors45} yTitle="[m/z 93] / [m/z  136]" />
        <Ratio col={COLS[2]} points={pts(ratioVol)} boxes={labelled(boxesVolRatio)} links={linksVolRatio} dotted={dottedVol}
          xDomain={[29, 180]} xTicks={ticks180} xMajors={majors180} yTitle="[m/z  81] / [m/z  137]" boxedLegend />
      </div>
    </div>
  );
}
